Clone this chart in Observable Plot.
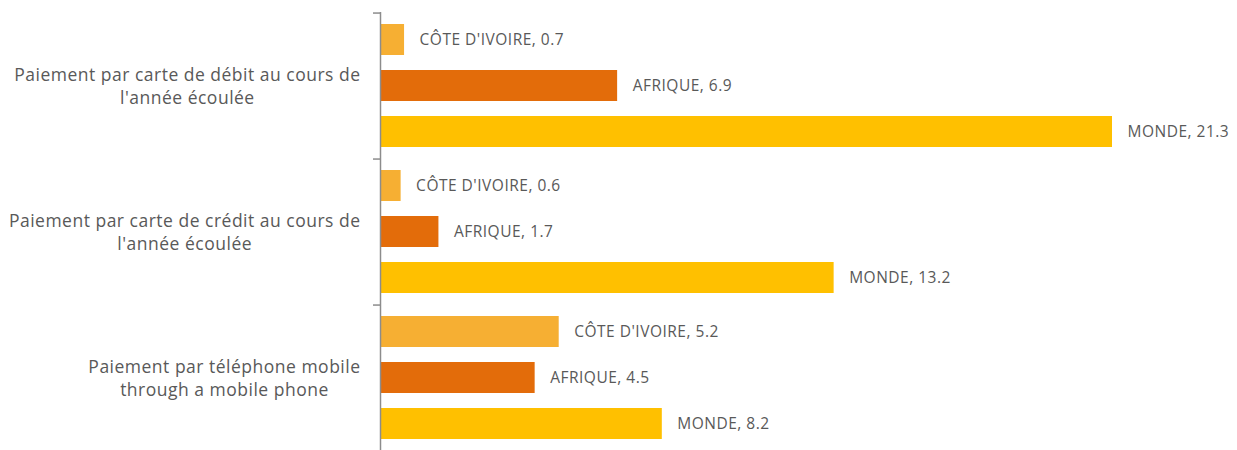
<!DOCTYPE html>
<html>
<head>
<meta charset="utf-8">
<script src="https://cdn.jsdelivr.net/npm/d3@7"></script>
<script src="https://cdn.jsdelivr.net/npm/@observablehq/plot@0.6"></script>
<style>
  html, body { margin: 0; padding: 0; background: #fff; }
  #chart svg text { letter-spacing: 0.5px; }
</style>
</head>
<body>
<div id="chart"></div>
<script>
const groups = [
  "Paiement par carte de débit au cours de\nl'année écoulée",
  "Paiement par carte de crédit au cours de\nl'année écoulée",
  "Paiement par téléphone mobile\nthrough a mobile phone"
];
const series = ["CÔTE D'IVOIRE", "AFRIQUE", "MONDE"];
const valuesCoteIvoire = [0.7, 0.6, 5.2];
const valuesAfrique = [6.9, 1.7, 4.5];
const valuesMonde = [21.3, 13.2, 8.2];
const colors = ["#F6AF33", "#E36C0A", "#FFC000"];

const seriesValues = [valuesCoteIvoire, valuesAfrique, valuesMonde];
const data = [];
groups.forEach((g, gi) => {
  series.forEach((s, si) => {
    data.push({group: g, series: s, value: seriesValues[si][gi]});
  });
});
const groupData = groups.map(g => ({group: g}));

const W = 1237, H = 450;
const mL = 380, mR = 125, mT = 12, mB = 0;
const padInner = 0.33, padOuter = 0.25;
const xMax = 21.3;
const pxPerUnit = (W - mL - mR) / xMax;
const facetH = (H - mT - mB) / groups.length;
const step = facetH / (series.length - padInner + 2 * padOuter);
const tickOffset = step * padOuter + step * (1 - padInner) / 2;
const tickLen = 7 / pxPerUnit;
const font = "'Open Sans', sans-serif";
const labelSize = 17.5;
const letterSp = 0.5;

// measure block width of each category label (longest line)
const ctx = document.createElement("canvas").getContext("2d");
ctx.font = `${labelSize}px 'Open Sans'`;
const blockWidth = g => d3.max(g.split("\n"), line => ctx.measureText(line).width + letterSp * line.length);

const labelMarks = groupData.map(d => Plot.text([d], {
  fy: "group", text: "group", frameAnchor: "left",
  dx: -20 - blockWidth(d.group) / 2, textAnchor: "middle",
  fill: "#595959", fontSize: labelSize, lineHeight: 1.32
}));

const chart = Plot.plot({
  width: W,
  height: H,
  marginLeft: mL,
  marginRight: mR,
  marginTop: mT,
  marginBottom: mB,
  style: {fontFamily: font, background: "#fff"},
  x: {domain: [0, xMax], axis: null},
  y: {domain: series, paddingInner: padInner, paddingOuter: padOuter, axis: null},
  fy: {domain: groups, padding: 0, axis: null},
  color: {domain: series, range: colors},
  marks: [
    Plot.barX(data, {fy: "group", y: "series", x: "value", fill: "series"}),
    Plot.text(data, {
      fy: "group", y: "series", x: "value",
      text: d => `${d.series}, ${d.value}`,
      dx: 15, textAnchor: "start", fill: "#595959", fontSize: 15.5
    }),
    Plot.ruleX([0], {stroke: "#8c8c8c", strokeWidth: 1.5}),
    Plot.ruleY(groupData, {
      fy: "group", y: () => series[0], x1: 0, x2: -tickLen,
      dy: -tickOffset, stroke: "#8c8c8c", strokeWidth: 1.5
    }),
    ...labelMarks
  ]
});
document.getElementById("chart").appendChild(chart);
</script>
</body>
</html>
